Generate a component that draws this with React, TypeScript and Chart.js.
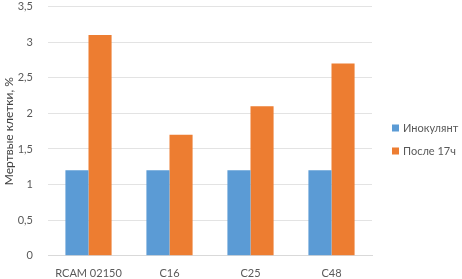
import React, { useEffect, useRef } from "react";
import { Chart, registerables } from "chart.js";

Chart.register(...registerables);

const categories = ["RCAM 02150", "C16", "C25", "C48"];
const inoculantValues = [1.2, 1.2, 1.2, 1.2];
const after17hValues = [3.1, 1.7, 2.1, 2.7];
const seriesNames = ["Инокулянт", "После 17ч"];
const seriesColors = ["#5B9BD5", "#ED7D31"];
const yAxisTitle = "Мертвые клетки, %";

const FONT = "Lato, 'Open Sans', sans-serif";
const TEXT = "#595959";

const sideLegend = {
  id: "sideLegend",
  afterDraw(chart: any) {
    const { ctx, chartArea } = chart;
    const n = chart.data.datasets.length;
    const gap = 23;
    const cy = chart.height / 2;
    const x = chartArea.right + 20;
    ctx.save();
    ctx.font = `11px ${FONT}`;
    ctx.textBaseline = "middle";
    ctx.textAlign = "left";
    chart.data.datasets.forEach((ds: any, i: number) => {
      const y = cy + (i - (n - 1) / 2) * gap;
      ctx.fillStyle = ds.backgroundColor;
      ctx.fillRect(x, y - 3.5, 7, 7);
      ctx.fillStyle = TEXT;
      ctx.fillText(ds.label, x + 11, y);
    });
    ctx.restore();
  },
};

export default function App() {
  const ref = useRef<HTMLCanvasElement | null>(null);
  useEffect(() => {
    if (!ref.current) return;
    const chart = new Chart(ref.current, {
      type: "bar",
      data: {
        labels: categories,
        datasets: [
          { label: seriesNames[0], data: inoculantValues, backgroundColor: seriesColors[0] },
          { label: seriesNames[1], data: after17hValues, backgroundColor: seriesColors[1] },
        ],
      },
      options: {
        responsive: false,
        animation: false,
        datasets: { bar: { categoryPercentage: 0.57, barPercentage: 1 } },
        layout: { padding: { top: 0, right: 90, left: 0, bottom: -12 } },
        plugins: {
          tooltip: { enabled: false },
          legend: { display: false },
        },
        scales: {
          x: {
            grid: { display: false, drawTicks: false },
            border: { color: "#d9d9d9" },
            ticks: { color: TEXT, font: { family: FONT, size: 11 }, padding: 11 },
          },
          y: {
            min: 0,
            max: 3.5,
            afterFit: (s: any) => {
              s.width = 48;
            },
            grid: { color: "#e3e3e3", drawTicks: true, tickLength: 15, tickColor: "rgba(0,0,0,0)" },
            border: { display: false },
            ticks: {
              stepSize: 0.5,
              color: TEXT,
              padding: 0,
              font: { family: FONT, size: 11 },
              callback: (v: any) => String(v).replace(".", ","),
            },
            title: {
              display: true,
              text: yAxisTitle,
              color: "#404040",
              font: { family: FONT, size: 12 },
              padding: { top: 2, bottom: 0 },
            },
          },
        },
      },
      plugins: [sideLegend],
    });
    return () => chart.destroy();
  }, []);
  return (
    <div style={{ position: "absolute", left: 0, top: 0, width: 462, height: 279, background: "#fff" }}>
      <canvas ref={ref} width={462} height={279} />
    </div>
  );
}
